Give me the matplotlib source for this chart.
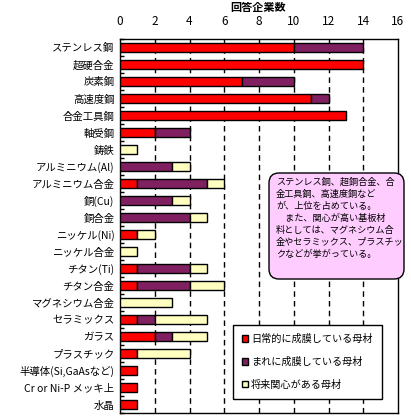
import matplotlib
matplotlib.use("Agg")
import matplotlib.pyplot as plt
from matplotlib.patches import FancyBboxPatch
import numpy as np

plt.rcParams['font.family'] = ['Noto Sans CJK JP', 'DejaVu Sans']

categories = ["ステンレス鋼", "超硬合金", "炭素鋼", "高速度鋼", "合金工具鋼", "軸受鋼", "鋳鉄",
              "アルミニウム(Al)", "アルミニウム合金", "銅(Cu)", "銅合金", "ニッケル(Ni)", "ニッケル合金",
              "チタン(Ti)", "チタン合金", "マグネシウム合金", "セラミックス", "ガラス", "プラスチック",
              "半導体(Si,GaAsなど)", "Cr or Ni-P メッキ上", "水晶"]
daily =  [10, 14, 7, 11, 13, 2, 0, 0, 1, 0, 0, 1, 0, 1, 1, 0, 1, 2, 1, 1, 1, 1]
rare =   [4, 0, 3, 1, 0, 2, 0, 3, 4, 3, 4, 0, 0, 3, 3, 0, 1, 1, 0, 0, 0, 0]
future = [0, 0, 0, 0, 0, 0, 1, 1, 1, 1, 1, 1, 1, 1, 2, 3, 3, 2, 3, 0, 0, 0]
series_labels = ["日常的に成膜している母材", "まれに成膜している母材", "将来関心がある母材"]
colors = ["#FF0000", "#802060", "#FFFFC0"]
xticks = [0, 2, 4, 6, 8, 10, 12, 14, 16]
title = "回答企業数"
note = ("ステンレス鋼、超鋼合金、合\n金工具鋼、高速度鋼など\nが、上位を占めている。\n"
        "\u3000また、関心が高い基板材\n料としては、マグネシウム合\n金やセラミックス、プラスチッ\nクなどが挙がっている。")

W, H = 411, 419
fig = plt.figure(figsize=(W / 100, H / 100), dpi=100)
ax = fig.add_axes([120 / W, 1 - 413 / H, (398 - 120) / W, (413 - 39) / H])

y = np.arange(len(categories))
d = np.array(daily); r = np.array(rare); f = np.array(future)
hb = 0.5
handles = []
for vals, left, c, lab in [(d, np.zeros_like(d), colors[0], series_labels[0]),
                           (r, d, colors[1], series_labels[1]),
                           (f, d + r, colors[2], series_labels[2])]:
    mask = vals > 0
    b = ax.barh(y[mask], vals[mask], left=left[mask], height=hb, color=c,
                edgecolor="black", linewidth=1, label=lab, zorder=3)
    handles.append(b)

ax.set_xlim(0, 16)
ax.set_ylim(len(categories) - 0.5, -0.5)
ax.set_xticks(xticks)
ax.xaxis.tick_top()
ax.tick_params(axis='x', length=0, pad=8, labelsize=8.5)
ax.set_yticks(y)
ax.set_yticklabels(categories, fontsize=7.5)
ax.tick_params(axis='y', which='major', length=0, pad=4)
ax.set_yticks(np.arange(len(categories) + 1) - 0.5, minor=True)
ax.tick_params(axis='y', which='minor', direction='in', length=3, width=1, color='black')
for xv in xticks[1:-1]:
    ax.axvline(xv, color='black', linestyle=(0, (4, 3)), linewidth=1, zorder=1)
for s in ax.spines.values():
    s.set_linewidth(1)

fig.text(258 / W, 1 - 8 / H, title, ha='center', va='center', fontsize=8, fontweight='bold')

# note box
box = FancyBboxPatch((2.69, 4.19 - 2.79), 1.35, 1.06,
                     boxstyle="round,pad=0,rounding_size=0.1",
                     transform=fig.dpi_scale_trans, facecolor="#FFCCFF",
                     edgecolor="black", linewidth=1, zorder=5)
fig.patches.append(box)
fig.text(2.76 / (W / 100), (4.19 - 1.78) / (H / 100), note, ha='left', va='top',
         fontsize=6.6, linespacing=1.4, zorder=6)

leg = ax.legend(handles=handles, loc='upper left', bbox_to_anchor=(233 / W, 1 - 325 / H),
                bbox_transform=fig.transFigure, borderaxespad=0, frameon=True,
                fancybox=False, edgecolor='black', framealpha=1, fontsize=7.3,
                handlelength=0.6, handleheight=0.6, handletextpad=0.3,
                labelspacing=1.25, borderpad=0.9)
leg.get_frame().set_linewidth(1)
leg.set_zorder(6)

fig.savefig("out.png", dpi=100)
